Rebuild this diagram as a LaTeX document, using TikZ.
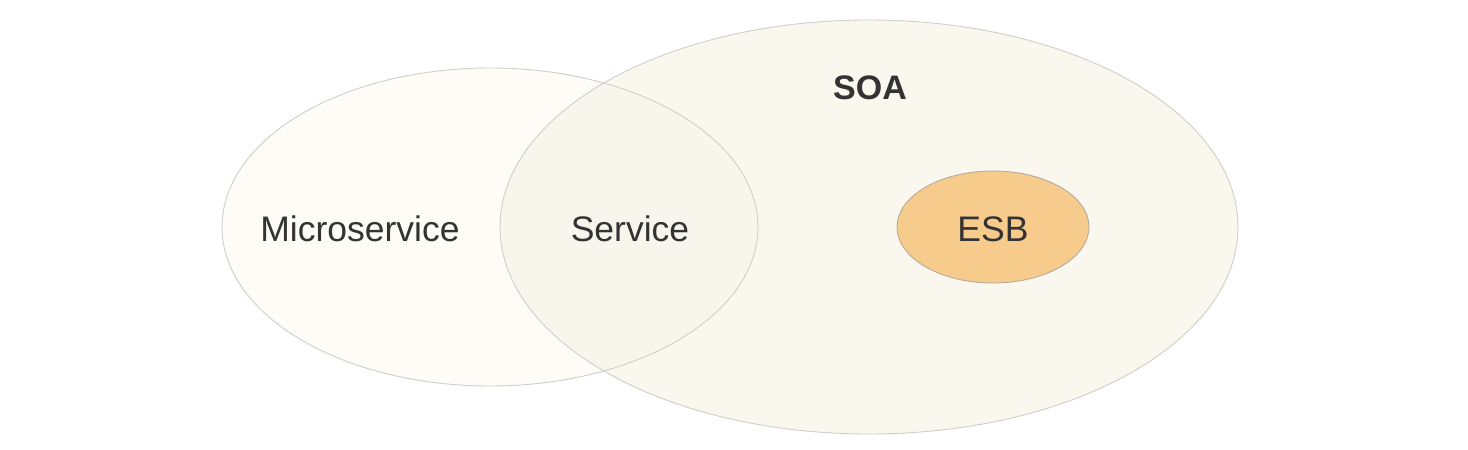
\documentclass[tikz,border=0pt]{standalone}
\usepackage{fontspec}
\setmainfont{Liberation Sans}
\usetikzlibrary{shapes.geometric}
\definecolor{leftfill}{HTML}{FDFCF7}
\definecolor{soafill}{HTML}{FAF8EE}
\definecolor{midfill}{HTML}{F8F6EC}
\definecolor{edge}{HTML}{CFCEC8}
\definecolor{esbfill}{HTML}{F6CB8C}
\definecolor{esbedge}{HTML}{B5AB9B}
\definecolor{txt}{HTML}{333333}
\tikzset{
  venn/.style={ellipse, inner sep=0pt, draw=edge, line width=0.9pt},
  label/.style={text=txt, font=\fontsize{35.5}{38}\selectfont, inner sep=0pt}
}
\begin{document}
\begin{tikzpicture}[x=1pt,y=-1pt]
\useasboundingbox[fill=white] (0,0) rectangle (1468,450);
% fills
\fill[soafill] (869,227) ellipse [x radius=369, y radius=207];
\fill[leftfill] (490,227) ellipse [x radius=268, y radius=159];
\begin{scope}
  \clip (869,227) ellipse [x radius=369, y radius=207];
  \fill[midfill] (490,227) ellipse [x radius=268, y radius=159];
\end{scope}
% outlines as named nodes
\node[venn, minimum width=738pt, minimum height=414pt] (soa) at (869,227) {};
\node[venn, minimum width=536pt, minimum height=318pt] (micro) at (490,227) {};
\node[venn, draw=esbedge, fill=esbfill, minimum width=192pt, minimum height=112pt] (esb) at (993,227) {};
% labels
\node[label] (lmicro) at (360,229) {Microservice};
\node[label] (lservice) at (630,229) {Service};
\node[label, font=\fontsize{34}{36}\selectfont\bfseries] (lsoa) at (870,88) {SOA};
\node[label] (lesb) at (993,229) {ESB};
\end{tikzpicture}
\end{document}
